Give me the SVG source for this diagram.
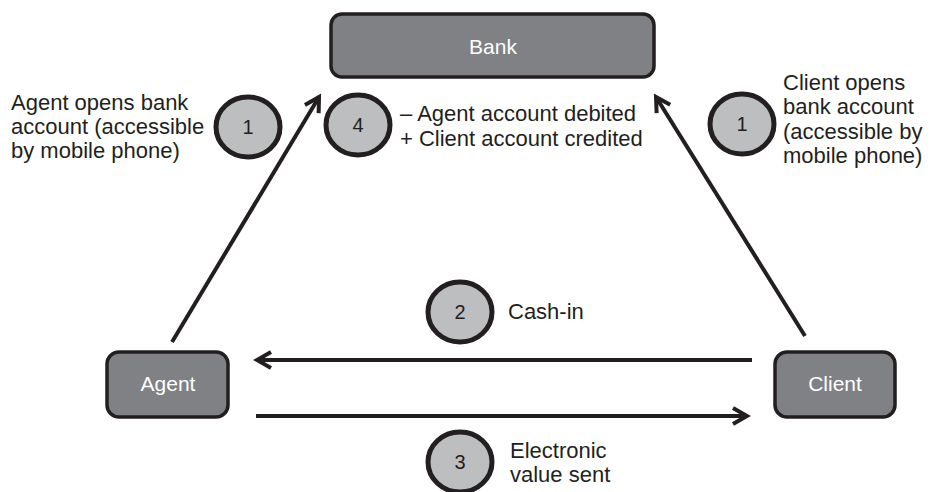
<svg xmlns="http://www.w3.org/2000/svg" width="932" height="492" viewBox="0 0 932 492">
<defs>
<marker id="arr" viewBox="-18 -11 22 22" refX="0" refY="0" markerWidth="22" markerHeight="22" markerUnits="userSpaceOnUse" orient="auto">
<path d="M-14,-8 L0,0 L-14,8" fill="none" stroke="#231f20" stroke-width="4"/>
</marker>
<style>
.box{fill:#808184;stroke:#231f20;stroke-width:3.5}
.btxt{fill:#ffffff;font-family:"Liberation Sans",Arial,sans-serif;font-size:21px;text-anchor:middle}
.circ{fill:#bcbec0;stroke:#231f20;stroke-width:5}
.num{fill:#231f20;font-family:"Liberation Sans",Arial,sans-serif;font-size:20px;text-anchor:middle}
.lbl{fill:#231f20;font-family:"Liberation Sans",Arial,sans-serif;font-size:22px}
.con{stroke:#231f20;stroke-width:4;fill:none}
</style>
</defs>
<rect width="932" height="492" fill="#ffffff"/>
<g id="connectors">
<line class="con" x1="172" y1="342" x2="319" y2="97" marker-end="url(#arr)"/>
<line class="con" x1="805" y1="336" x2="656" y2="97" marker-end="url(#arr)"/>
<line class="con" x1="752" y1="360" x2="257" y2="360" marker-end="url(#arr)"/>
<line class="con" x1="256" y1="416" x2="747" y2="416" marker-end="url(#arr)"/>
</g>
<g id="bank">
<rect class="box" x="331" y="14" width="323" height="63" rx="11"/>
<text class="btxt" x="493" y="54">Bank</text>
</g>
<g id="agent">
<rect class="box" x="107" y="352" width="121" height="65" rx="12"/>
<text class="btxt" x="168" y="391">Agent</text>
</g>
<g id="client">
<rect class="box" x="775" y="352" width="120" height="65" rx="12"/>
<text class="btxt" x="835" y="391">Client</text>
</g>
<g id="step1-agent">
<ellipse class="circ" cx="248" cy="127" rx="32" ry="30"/>
<text class="num" x="248" y="134">1</text>
<text class="lbl" x="11" y="110">Agent opens bank</text>
<text class="lbl" x="11" y="134">account (accessible</text>
<text class="lbl" x="11" y="158">by mobile phone)</text>
</g>
<g id="step4">
<ellipse class="circ" cx="358" cy="125" rx="32" ry="30"/>
<text class="num" x="358" y="132">4</text>
<text class="lbl" x="400" y="121">– Agent account debited</text>
<text class="lbl" x="400" y="146">+ Client account credited</text>
</g>
<g id="step1-client">
<ellipse class="circ" cx="742" cy="124" rx="32" ry="30"/>
<text class="num" x="742" y="131">1</text>
<text class="lbl" x="783" y="90">Client opens</text>
<text class="lbl" x="783" y="114">bank account</text>
<text class="lbl" x="783" y="139">(accessible by</text>
<text class="lbl" x="783" y="163">mobile phone)</text>
</g>
<g id="step2">
<ellipse class="circ" cx="460" cy="312" rx="32" ry="30"/>
<text class="num" x="460" y="319">2</text>
<text class="lbl" x="508" y="319">Cash-in</text>
</g>
<g id="step3">
<ellipse class="circ" cx="460" cy="462" rx="32" ry="30"/>
<text class="num" x="460" y="469">3</text>
<text class="lbl" x="510" y="458">Electronic</text>
<text class="lbl" x="510" y="482">value sent</text>
</g>
</svg>
